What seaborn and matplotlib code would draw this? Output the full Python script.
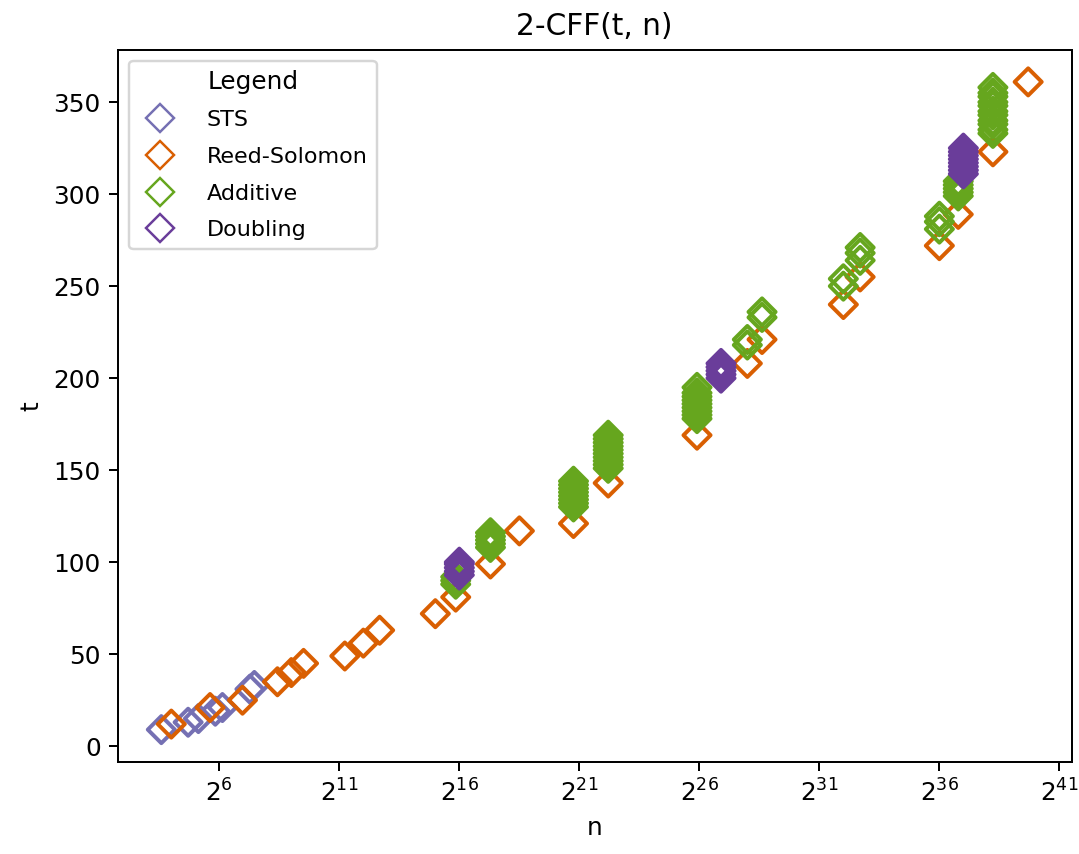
import numpy as np
import pandas as pd
import matplotlib
matplotlib.use("Agg")
import matplotlib.pyplot as plt
import seaborn as sns
from matplotlib.lines import Line2D
from matplotlib.ticker import FixedLocator, LogFormatterSciNotation, NullLocator

# Steiner triple systems
sts_t = [9, 13, 15, 19, 21, 31, 33]
sts_n = [12, 26, 35, 57, 70, 155, 176]

# Reed-Solomon code constructions
rs_t = [12, 21, 25, 35, 40, 45, 49, 56, 63, 72, 81, 99, 117, 121, 143, 169,
        208, 221, 240, 255, 272, 289, 323, 361]
rs_n = [16, 49, 125, 343, 512, 729, 2401, 4096, 6561, 32768, 59049, 161051,
        371293, 1771561, 4826809, 62748517, 268435456, 410338673,
        4294967296, 6975757441, 68719476736, 118587876497, 322687697779,
        893000000000]

# Additive constructions
add_t = [88, 90, 92,
         108, 110, 112, 114, 116,
         130, 132, 134, 136, 138, 140, 142, 144,
         151, 153, 155, 157, 159, 161, 163, 165, 167, 169,
         178, 180, 182, 184, 186, 188, 190, 192, 195,
         218, 221,
         233, 236,
         250, 254,
         264, 268, 271,
         281, 285, 288,
         299, 301, 303, 305, 307,
         333, 335, 338, 340, 343, 345, 348, 350, 353, 355, 358]
add_n = [59049, 59049, 59049,
         161051, 161051, 161051, 161051, 161051,
         1771561, 1771561, 1771561, 1771561, 1771561, 1771561, 1771561, 1771561,
         4826809, 4826809, 4826809, 4826809, 4826809, 4826809, 4826809,
         4826809, 4826809, 4826809,
         62748517, 62748517, 62748517, 62748517, 62748517, 62748517,
         62748517, 62748517, 62748517,
         268435456, 268435456,
         410338673, 410338673,
         4294967296, 4294967296,
         6975757441, 6975757441, 6975757441,
         68719476736, 68719476736, 68719476736,
         118587876497, 118587876497, 118587876497, 118587876497, 118587876497,
         322687697779, 322687697779, 322687697779, 322687697779,
         322687697779, 322687697779, 322687697779, 322687697779,
         322687697779, 322687697779, 322687697779]

# Doubling constructions
dbl_t = [93, 95, 97, 99, 100,
         200, 202, 204, 206, 208,
         311, 313, 315, 317, 319, 321, 323, 325]
dbl_n = [65536, 65536, 65536, 65536, 65536,
         125497034, 125497034, 125497034, 125497034, 125497034,
         137438953472, 137438953472, 137438953472, 137438953472,
         137438953472, 137438953472, 137438953472, 137438953472]

series_names = ["STS", "Reed-Solomon", "Additive", "Doubling"]
series_colors = ["#7570b3", "#d95f02", "#66a61e", "#6a3d9a"]
x_tick_exponents = [6, 11, 16, 21, 26, 31, 36, 41]

df = pd.concat([
    pd.DataFrame({"n": sts_n, "t": sts_t, "Construction": "STS"}),
    pd.DataFrame({"n": rs_n, "t": rs_t, "Construction": "Reed-Solomon"}),
    pd.DataFrame({"n": add_n, "t": add_t, "Construction": "Additive"}),
    pd.DataFrame({"n": dbl_n, "t": dbl_t, "Construction": "Doubling"}),
], ignore_index=True)
df["n"] = df["n"].astype(float)

DPI = 178
fig = plt.figure(figsize=(1079 / DPI, 854 / DPI), dpi=DPI)
ax = fig.add_axes([118 / 1079, 92 / 854, 953.5 / 1079, 712.5 / 854])

palette = dict(zip(series_names, series_colors))
sns.scatterplot(data=df, x="n", y="t", hue="Construction", hue_order=series_names,
                palette=palette, marker="D", s=60, legend=False, ax=ax)

# Turn the filled diamonds into open outlines in the series colour
for coll in ax.collections:
    fc = coll.get_facecolors()
    coll.set_edgecolors(fc)
    coll.set_facecolors("none")
    coll.set_linewidths(1.6)

ax.set_xscale("log", base=2)
ax.xaxis.set_major_locator(FixedLocator([2.0 ** e for e in x_tick_exponents]))
ax.xaxis.set_major_formatter(LogFormatterSciNotation(base=2))
ax.xaxis.set_minor_locator(NullLocator())

ax.set_title("2-CFF(t, n)", fontsize=12)
ax.set_xlabel("n", fontsize=10)
ax.set_ylabel("t", fontsize=10)
ax.tick_params(labelsize=10)

handles = [Line2D([], [], linestyle="none", marker="D", markersize=8,
                  markerfacecolor="none", markeredgecolor=c, markeredgewidth=1.0)
           for c in series_colors]
ax.legend(handles, series_names, title="Legend", loc="upper left",
          fontsize=9, title_fontsize=10, handletextpad=1.1, labelspacing=0.75)

fig.savefig("out.png", dpi=DPI)
